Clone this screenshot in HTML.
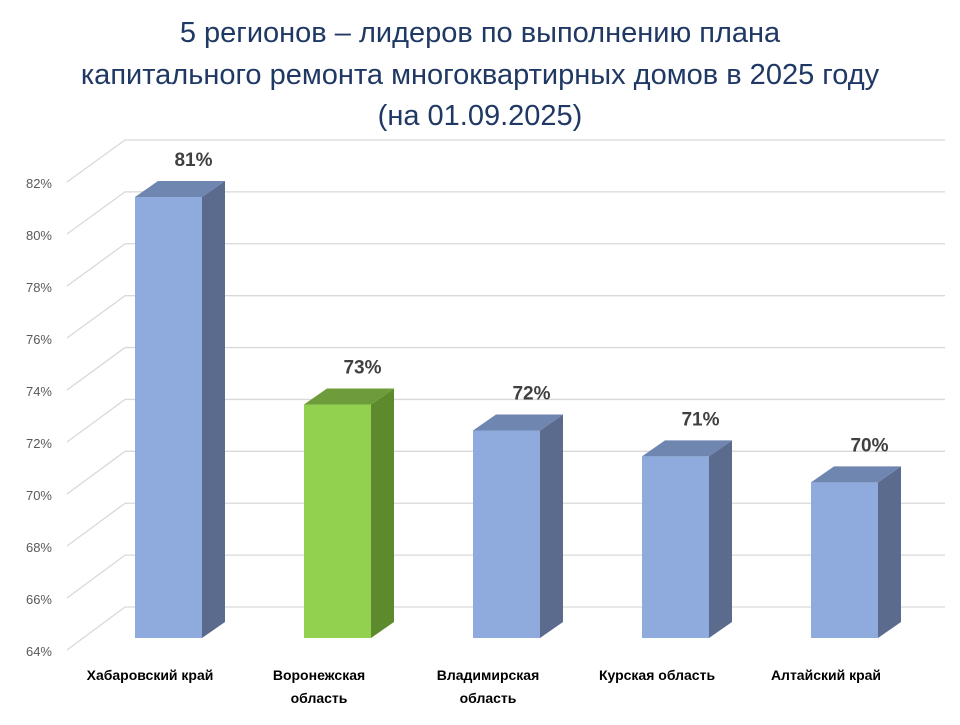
<!DOCTYPE html>
<html><head><meta charset="utf-8"><style>
body{margin:0;background:#fff;width:960px;height:720px;overflow:hidden}
svg{font-family:"Liberation Sans",sans-serif}
</style></head><body>
<svg id="c" width="960" height="720">
<g fill="#1f3864" font-size="29" text-anchor="middle" font-family="Liberation Sans, DejaVu Sans, sans-serif">
<text x="480" y="42">5 регионов – лидеров по выполнению плана</text>
<text x="480" y="84">капитального ремонта многоквартирных домов в 2025 году</text>
<text x="480" y="125">(на 01.09.2025)</text>
</g>
<g id="grid"></g>
<g id="bars"></g>
</svg>
<script>
const categories=[["Хабаровский край"],["Воронежская","область"],["Владимирская","область"],["Курская область"],["Алтайский край"]];
const values=[81,73,72,71,70];
const valueLabels=["81%","73%","72%","71%","70%"];
const highlight=[false,true,false,false,false];
const ticks=[64,66,68,70,72,74,76,78,80,82];
const vmin=64,vmax=82;
const ns="http://www.w3.org/2000/svg";
function mk(t,a,p){const e=document.createElementNS(ns,t);for(const k in a)e.setAttribute(k,a[k]);p.appendChild(e);return e;}
const yLabel=v=>652-(v-vmin)*(468/(vmax-vmin));
const yBack=v=>607-(v-vmin)*(467/(vmax-vmin));
const yFront=v=>638-(v-vmin)*(441/17);
const xBar=i=>135+i*169;
const grid=document.getElementById('grid');
ticks.forEach(t=>{
 const l=mk('polyline',{points:`67,${yLabel(t)-2} 125,${yBack(t)} 945,${yBack(t)}`,fill:'none',stroke:'#d9d9d9','stroke-width':1.3},grid);
 
 
 const tx=mk('text',{x:52,y:yLabel(t)+4,'text-anchor':'end','font-size':13,fill:'#595959'},grid);
 tx.textContent=t+'%';
 
 
});
const bars=document.getElementById('bars');
const W=67,dx=23,dy=16;
values.forEach((v,i)=>{
 const x=xBar(i),yt=yFront(v),yb=yFront(vmin);
 const c=highlight[i]?['#92d050','#5e8a2e','#6e9c3a']:['#8faadc','#5b6b8d','#6f86b1'];
 const g=mk('g',{},bars);
 
 
 mk('rect',{x:x,y:yt,width:W,height:yb-yt,fill:c[0]},g);
 mk('polygon',{points:`${x+W},${yt} ${x+W+dx},${yt-dy} ${x+W+dx},${yb-dy} ${x+W},${yb}`,fill:c[1]},g);
 mk('polygon',{points:`${x},${yt} ${x+dx},${yt-dy} ${x+W+dx},${yt-dy} ${x+W},${yt}`,fill:c[2]},g);
 const vl=mk('text',{x:x+W/2+25,y:yt-31,'text-anchor':'middle','font-size':19,'font-weight':'bold',fill:'#404040'},bars);
 vl.textContent=valueLabels[i];
 
 
 categories[i].forEach((s,j)=>{
  const cl=mk('text',{x:x+15,y:680+j*23,'text-anchor':'middle','font-size':14,'font-weight':'bold',fill:'#000'},bars);
  cl.textContent=s;
  
  
 });
});
</script>
</body></html>
